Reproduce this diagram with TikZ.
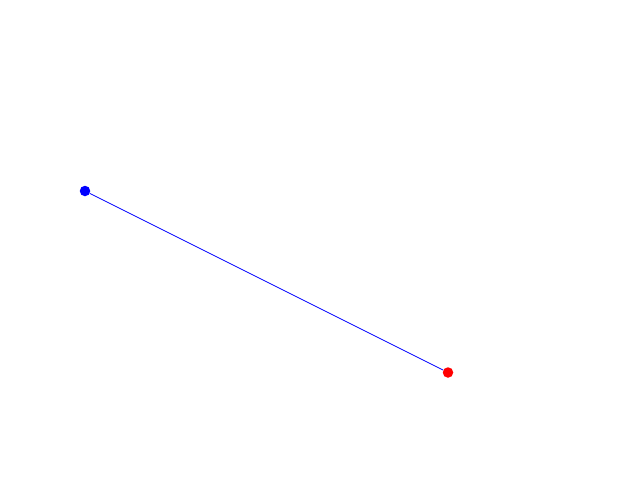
\documentclass[tikz,border=0pt]{standalone}
\begin{document}
\begin{tikzpicture}[x=1pt,y=-1pt,
  dot/.style={circle,inner sep=0pt,minimum size=10.5pt},
  link/.style={blue,line width=0.8pt}]
\useasboundingbox[fill=white] (0,0) rectangle (640,480);
\node[dot,fill=blue] (a) at (85,191) {};
\node[dot,fill=red] (b) at (448,372.5) {};
\draw[link] (a) -- (b);
\end{tikzpicture}
\end{document}
